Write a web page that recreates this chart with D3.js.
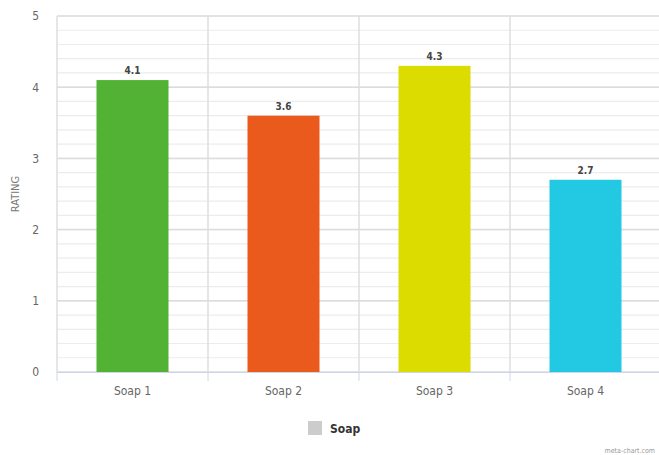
<!DOCTYPE html>
<html><head><meta charset="utf-8">
<script src="https://cdn.jsdelivr.net/npm/d3@7"></script>
<style>
body{margin:0;background:#fff;}
text{font-family:"Liberation Sans Narrow","DejaVu Sans Condensed","Roboto Condensed",sans-serif;font-stretch:condensed;}
</style></head>
<body><svg id="c" width="659" height="455"></svg>
<script>
const categories = ["Soap 1","Soap 2","Soap 3","Soap 4"];
const values = [4.1, 3.6, 4.3, 2.7];
const colors = ["#52b234","#ea5a1c","#dcdc00","#23c8e2"];
const yTicks = [0,1,2,3,4,5];
const seriesName = "Soap";
const yTitle = "RATING";
const FONT = "'Liberation Sans Narrow','DejaVu Sans Condensed','Roboto Condensed',sans-serif";

const svg = d3.select("#c");
const m = {left:57, top:16, right:-2, bottom:83};
const W = 659 - m.left - m.right, H = 455 - m.top - m.bottom;
const g = svg.append("g").attr("transform",`translate(${m.left},${m.top})`);

const x = d3.scaleBand().domain(categories).range([0,W]).paddingInner(0).paddingOuter(0);
const y = d3.scaleLinear().domain([0,5]).range([H,0]);

// minor gridlines
const minor = d3.range(0,5.001,0.2);
g.selectAll(".minor").data(minor).join("line")
  .attr("x1",0).attr("x2",W).attr("y1",d=>y(d)).attr("y2",d=>y(d))
  .attr("stroke","#ececec").attr("stroke-width",1.2);
// major gridlines
g.selectAll(".major").data(yTicks).join("line")
  .attr("x1",0).attr("x2",W).attr("y1",d=>y(d)).attr("y2",d=>y(d))
  .attr("stroke","#dcdcdc").attr("stroke-width",1.5);
// vertical category separators
g.selectAll(".vsep").data(categories).join("line")
  .attr("x1",d=>x(d)).attr("x2",d=>x(d)).attr("y1",0).attr("y2",H)
  .attr("stroke","#dedede").attr("stroke-width",1.5);

// y axis labels
const ya = g.append("g").call(d3.axisLeft(y).tickValues(yTicks).tickSize(0).tickPadding(18).tickFormat(d3.format("d")));
ya.select(".domain").remove();
ya.selectAll("text").attr("fill","#666").attr("font-size",12).attr("font-family",FONT);

// bars
const bw = 72;
g.selectAll(".bar").data(values).join("rect")
  .attr("x",(d,i)=>x(categories[i])+x.bandwidth()/2-bw/2)
  .attr("width",bw)
  .attr("y",d=>y(d)).attr("height",d=>H-y(d))
  .attr("fill",(d,i)=>colors[i]);

// value labels
g.selectAll(".vl").data(values).join("text")
  .attr("x",(d,i)=>x(categories[i])+x.bandwidth()/2)
  .attr("y",d=>y(d)-6)
  .attr("text-anchor","middle").attr("font-size",10).attr("font-weight","bold")
  .attr("font-family",FONT)
  .attr("fill","#444").text(d=>d3.format(".1f")(d));

// x axis
const xa = g.append("g").attr("transform",`translate(0,${H})`)
  .call(d3.axisBottom(x).tickSize(0).tickPadding(14));
xa.select(".domain").attr("stroke","#ccd6eb");
xa.selectAll("text").attr("fill","#666").attr("font-size",12).attr("font-family",FONT);
g.selectAll(".xt").data(categories).join("line")
  .attr("x1",d=>x(d)).attr("x2",d=>x(d)).attr("y1",H).attr("y2",H+9)
  .attr("stroke","#ccd6eb");

// y title
svg.append("text").attr("transform","translate(19,194) rotate(-90)")
  .attr("text-anchor","middle").attr("font-size",11).attr("fill","#777")
  .attr("font-family",FONT).text(yTitle);

// legend
svg.append("rect").attr("x",308).attr("y",421).attr("width",14).attr("height",14).attr("fill","#cccccc");
svg.append("text").attr("x",330).attr("y",433).attr("font-size",12).attr("font-weight","bold")
  .attr("font-family",FONT).attr("fill","#333").text(seriesName);

// credit
svg.append("text").attr("x",655).attr("y",453).attr("text-anchor","end").attr("font-size",7)
  .attr("font-family",FONT).attr("fill","#999").text("meta-chart.com");
</script></body></html>
